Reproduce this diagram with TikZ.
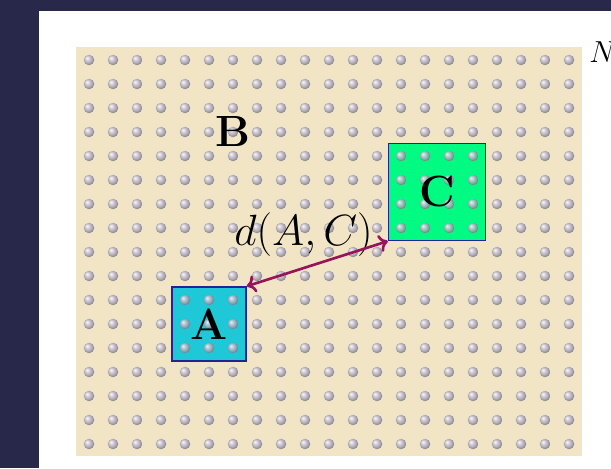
\documentclass[tikz,border=0pt]{standalone}
\usetikzlibrary{arrows.meta, positioning, calc}
\usepackage{xcolor}
\definecolor{slidebg}{RGB}{40, 40, 75}
\definecolor{sand}{RGB}{242, 229, 198}
\definecolor{regionA}{RGB}{30, 200, 215}
\definecolor{regionC}{RGB}{0, 250, 130}
\definecolor{edge}{RGB}{35, 35, 150}
\definecolor{distance}{RGB}{150, 20, 90}
\definecolor{pebble}{RGB}{200, 195, 215}
\pgfdeclareradialshading{pebbleball}{\pgfqpoint{-10bp}{10bp}}{%
  color(0bp)=(white); color(9bp)=(pebble!85!white); color(18bp)=(pebble!85!black);
  color(25bp)=(pebble!65!black); color(50bp)=(pebble!50!black)}

\begin{document}
\begin{tikzpicture}[
    x=0.48cm, y=0.48cm,
    region/.style={rectangle, draw=edge, line width=0.9pt, inner sep=0pt},
    letter/.style={font=\Huge\bfseries, inner sep=0pt},
    arrow/.style={{Computer Modern Rightarrow[length=5pt, width=10pt]}-{Computer Modern Rightarrow[length=5pt, width=10pt]}, line width=1.5pt, draw=distance},
    atom/.style={shading=pebbleball, opacity=0.85}
]

% Slide frame
\useasboundingbox (-3.7083,2.5) rectangle (21.75,-17);
\fill[slidebg] (-3.7083,2.5) rectangle (21.75,-17);
\fill[white] (-2.083,2.042) rectangle (21.75,-17);

% Lattice B
\fill[sand] (-0.542,0.542) rectangle (20.542,-16.5);

% Regions A and C
\node[region, fill=regionA, minimum width=1.48cm, minimum height=1.48cm] (areaA) at (5,-11) {};
\node[region, fill=regionC, minimum width=1.935cm, minimum height=1.935cm] (areaC) at (14.5,-5.5) {};

% Atoms
\foreach \col in {0,...,20}
  \foreach \row in {0,...,16}
    \shade[atom] (\col,-\row) circle (0.22);

% Labels
\node[letter] (labelA) at (areaA) {A};
\node[letter] (labelC) at (areaC) {C};
\node[letter] (labelB) at (6,-3) {B};
\node[font=\LARGE, anchor=base west, inner sep=0pt] (labelN) at (20.83,-0.125) {$N$};

% Distance
\node[font=\Huge, inner sep=0pt] (dist) at (8.94,-7.29) {$d(A,C)$};
\draw[arrow] (areaA.north east) -- (areaC.south west);

\end{tikzpicture}
\end{document}
